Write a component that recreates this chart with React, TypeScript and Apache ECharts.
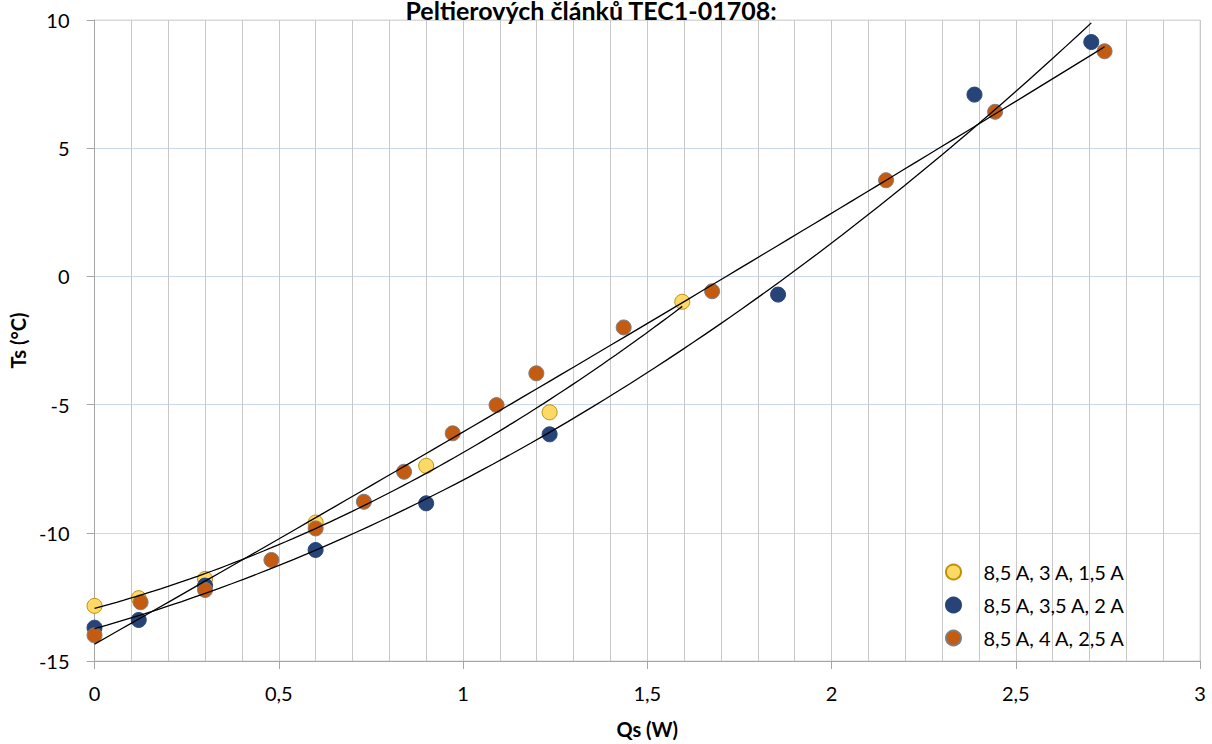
import React, { useEffect, useRef } from "react";
import * as echarts from "echarts";

const seriesNames = ["8,5 A, 3 A, 1,5 A", "8,5 A, 3,5 A, 2 A", "8,5 A, 4 A, 2,5 A"];

const xA = [0, 0.12, 0.3, 0.6, 0.9, 1.235, 1.595];
const yA = [-12.85, -12.55, -11.8, -9.6, -7.39, -5.3, -0.99];

const xB = [0, 0.12, 0.3, 0.6, 0.9, 1.235, 1.855, 2.388, 2.705];
const yB = [-13.7, -13.4, -12.06, -10.67, -8.85, -6.16, -0.71, 7.09, 9.14];

const xC = [0, 0.125, 0.3, 0.48, 0.6, 0.731, 0.84, 0.972, 1.091, 1.199, 1.436, 1.676, 2.148, 2.444, 2.741];
const yC = [-14.0, -12.71, -12.23, -11.06, -9.83, -8.79, -7.62, -6.12, -5.02, -3.78, -1.99, -0.58, 3.75, 6.42, 8.78];

const yTicks = [-15, -10, -5, 0, 5, 10];

const fills = ["#FFD966", "#264478", "#C55A11"];
const borders = ["#BF9000", "#264478", "#7F7F7F"];

function quadFit(xs: number[], ys: number[]) {
  // least squares y = a + b x + c x^2
  let s0 = 0, s1 = 0, s2 = 0, s3 = 0, s4 = 0, t0 = 0, t1 = 0, t2 = 0;
  for (let i = 0; i < xs.length; i++) {
    const x = xs[i], y = ys[i];
    s0 += 1; s1 += x; s2 += x * x; s3 += x * x * x; s4 += x * x * x * x;
    t0 += y; t1 += x * y; t2 += x * x * y;
  }
  const M = [
    [s0, s1, s2, t0],
    [s1, s2, s3, t1],
    [s2, s3, s4, t2],
  ];
  for (let i = 0; i < 3; i++) {
    let p = i;
    for (let r = i + 1; r < 3; r++) if (Math.abs(M[r][i]) > Math.abs(M[p][i])) p = r;
    [M[i], M[p]] = [M[p], M[i]];
    for (let r = 0; r < 3; r++) {
      if (r === i) continue;
      const f = M[r][i] / M[i][i];
      for (let c = i; c < 4; c++) M[r][c] -= f * M[i][c];
    }
  }
  return [M[0][3] / M[0][0], M[1][3] / M[1][1], M[2][3] / M[2][2]];
}

function trend(xs: number[], ys: number[]) {
  const [a, b, c] = quadFit(xs, ys);
  const x0 = Math.min(...xs);
  const x1 = Math.max(...xs);
  const pts: number[][] = [];
  const n = 80;
  for (let i = 0; i <= n; i++) {
    const x = x0 + ((x1 - x0) * i) / n;
    pts.push([x, a + b * x + c * x * x]);
  }
  return pts;
}

const fmt = (v: number) => String(v).replace(".", ",");

export default function App() {
  const ref = useRef<HTMLDivElement>(null);
  useEffect(() => {
    if (!ref.current) return;
    const chart = echarts.init(ref.current, undefined, { renderer: "svg" });
    const groups = [
      [xA, yA],
      [xB, yB],
      [xC, yC],
    ];
    const scatter = groups.map(([xs, ys], i) => ({
      name: seriesNames[i],
      type: "scatter",
      data: xs.map((x, k) => [x, ys[k]]),
      symbol: "circle",
      symbolSize: 15,
      itemStyle: { color: fills[i], borderColor: borders[i], borderWidth: 1, opacity: 1 },
      z: 3,
    }));
    const lines = groups.map(([xs, ys]) => ({
      type: "line",
      data: trend(xs, ys),
      showSymbol: false,
      symbol: "none",
      silent: true,
      lineStyle: { color: "#000000", width: 1.3 },
      z: 4,
    }));
    chart.setOption({
      animation: false,
      textStyle: { fontFamily: "Lato" },
      grid: {
        left: 93,
        right: 12,
        top: 20,
        bottom: 83,
        show: true,
        borderColor: "#D9D9D9",
        borderWidth: 1,
      },
      graphic: [
        {
          type: "text",
          x: 591,
          y: 22,
          z: 10,
          style: {
            text: "Peltierových článků TEC1-01708:",
            textAlign: "center",
            textVerticalAlign: "bottom",
            fontSize: 25,
            fontWeight: "bold",
            fontFamily: "Lato",
            fill: "#000000",
          },
        },
      ],
      legend: {
        orient: "vertical",
        left: 940,
        top: 556,
        data: seriesNames,
        icon: "circle",
        itemWidth: 50,
        itemHeight: 15,
        itemGap: 11,
        textStyle: { fontSize: 20, fontFamily: "Lato", color: "#000000", lineHeight: 22 },
      },
      xAxis: {
        type: "value",
        min: 0,
        max: 3,
        interval: 0.5,
        name: "Qs (W)",
        nameLocation: "middle",
        nameGap: 58,
        nameTextStyle: { fontSize: 20, fontWeight: "bold", color: "#000000", fontFamily: "Lato" },
        axisLine: { show: true, onZero: false, lineStyle: { color: "#A6A6A6", width: 1 } },
        axisTick: { show: true, inside: false, length: 8, lineStyle: { color: "#A6A6A6" } },
        minorTick: { show: false, splitNumber: 5 },
        axisLabel: { fontSize: 20, color: "#000000", margin: 22, formatter: (v: number) => fmt(v) },
        splitLine: { show: true, lineStyle: { color: "#C8C8C8", width: 1 } },
        minorSplitLine: { show: true, lineStyle: { color: "#C8C8C8", width: 1 } },
      },
      yAxis: {
        type: "value",
        min: -15,
        max: 10,
        interval: 5,
        name: "Ts (°C)",
        nameLocation: "middle",
        nameGap: 62,
        nameTextStyle: { fontSize: 20, fontWeight: "bold", color: "#000000", fontFamily: "Lato" },
        axisLine: { show: true, onZero: false, lineStyle: { color: "#A6A6A6", width: 1 } },
        axisTick: { show: true, inside: false, length: 8, lineStyle: { color: "#A6A6A6" } },
        axisLabel: { fontSize: 20, color: "#000000", margin: 25, formatter: (v: number) => fmt(v) },
        splitLine: {
          show: true,
          lineStyle: {
            color: yTicks.map((t) => (t === 10 ? "#D9D9D9" : "#C9D6EE")),
            width: 1,
          },
        },
      },
      series: [...scatter, ...lines],
    });
    return () => chart.dispose();
  }, []);
  return (
    <div
      ref={ref}
      style={{ position: "fixed", left: 0, top: 0, width: 1212, height: 744, background: "#FFFFFF" }}
    />
  );
}
